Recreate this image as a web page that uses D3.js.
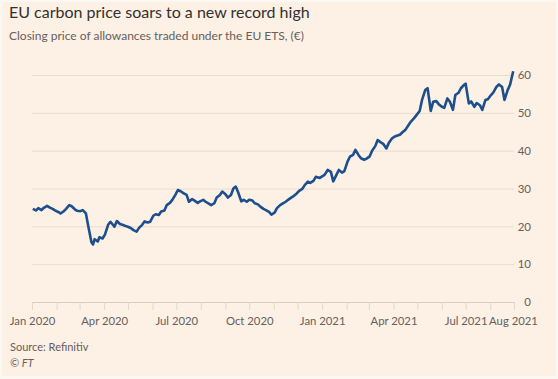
<!DOCTYPE html>
<html><head><meta charset="utf-8">
<script src="https://cdn.jsdelivr.net/npm/d3@7"></script>
<style>
html,body{margin:0;padding:0;background:#fbf7f3;}
svg{display:block;}
</style></head><body>
<svg id="chart" width="558" height="379"></svg>
<script>
const title = "EU carbon price soars to a new record high";
const subtitle = "Closing price of allowances traded under the EU ETS, (€)";
const sourceText = "Source: Refinitiv";
const creditText = "© FT";

const dates = ["2020-01-02","2020-01-06","2020-01-09","2020-01-13","2020-01-16","2020-01-20","2020-01-23","2020-01-27","2020-01-30","2020-02-03","2020-02-06","2020-02-10","2020-02-13","2020-02-17","2020-02-20","2020-02-24","2020-02-27","2020-03-02","2020-03-05","2020-03-09","2020-03-12","2020-03-16","2020-03-18","2020-03-20","2020-03-24","2020-03-26","2020-03-30","2020-04-02","2020-04-06","2020-04-09","2020-04-14","2020-04-17","2020-04-21","2020-04-24","2020-04-28","2020-05-01","2020-05-05","2020-05-08","2020-05-12","2020-05-15","2020-05-19","2020-05-22","2020-05-26","2020-05-29","2020-06-02","2020-06-05","2020-06-09","2020-06-12","2020-06-16","2020-06-19","2020-06-23","2020-06-26","2020-06-30","2020-07-03","2020-07-07","2020-07-10","2020-07-14","2020-07-17","2020-07-21","2020-07-24","2020-07-28","2020-07-31","2020-08-04","2020-08-07","2020-08-11","2020-08-14","2020-08-18","2020-08-21","2020-08-25","2020-08-28","2020-09-01","2020-09-04","2020-09-08","2020-09-11","2020-09-14","2020-09-17","2020-09-21","2020-09-24","2020-09-28","2020-10-01","2020-10-05","2020-10-08","2020-10-12","2020-10-15","2020-10-19","2020-10-22","2020-10-26","2020-10-29","2020-11-02","2020-11-05","2020-11-09","2020-11-12","2020-11-16","2020-11-19","2020-11-23","2020-11-26","2020-11-30","2020-12-03","2020-12-07","2020-12-10","2020-12-14","2020-12-17","2020-12-21","2020-12-24","2020-12-29","2021-01-04","2021-01-08","2021-01-12","2021-01-15","2021-01-19","2021-01-22","2021-01-26","2021-01-29","2021-02-02","2021-02-05","2021-02-09","2021-02-12","2021-02-16","2021-02-19","2021-02-23","2021-02-26","2021-03-02","2021-03-05","2021-03-09","2021-03-12","2021-03-16","2021-03-19","2021-03-23","2021-03-26","2021-03-30","2021-04-02","2021-04-06","2021-04-09","2021-04-13","2021-04-16","2021-04-20","2021-04-23","2021-04-27","2021-04-30","2021-05-04","2021-05-07","2021-05-11","2021-05-14","2021-05-18","2021-05-21","2021-05-25","2021-05-28","2021-06-01","2021-06-04","2021-06-08","2021-06-11","2021-06-15","2021-06-18","2021-06-22","2021-06-25","2021-06-29","2021-07-01","2021-07-05","2021-07-08","2021-07-12","2021-07-15","2021-07-19","2021-07-22","2021-07-26","2021-07-29","2021-08-02","2021-08-05","2021-08-09","2021-08-12","2021-08-16","2021-08-19","2021-08-23","2021-08-26","2021-08-30"];

const prices = [24.6,24.2,24.8,24.3,24.9,25.4,25.0,24.6,24.2,23.8,23.4,24.0,24.6,25.6,25.3,24.5,24.1,24.0,24.3,23.4,20.0,15.8,15.2,16.6,16.0,17.1,16.8,17.8,20.4,21.2,19.9,21.4,20.6,20.4,20.1,19.9,19.5,19.0,18.6,19.6,20.4,21.3,21.0,21.2,22.8,23.2,23.0,23.9,24.2,25.6,26.2,27.0,28.4,29.6,29.2,28.8,28.3,26.5,27.2,26.8,26.2,26.6,27.0,26.5,26.0,25.6,26.1,27.6,28.3,29.2,28.5,27.6,28.3,30.0,30.5,29.0,26.6,27.0,26.5,27.0,26.8,26.1,25.8,25.2,24.6,24.3,23.8,23.1,23.6,24.8,25.6,26.0,26.5,27.0,27.6,28.0,28.7,29.4,29.9,30.9,31.8,31.5,32.0,33.1,32.8,33.6,34.9,34.4,31.9,33.6,34.9,34.2,34.6,37.1,38.4,38.9,40.2,38.8,38.0,37.6,37.9,38.5,40.0,41.2,42.8,42.2,41.8,40.6,42.0,43.2,43.7,44.0,44.2,45.0,45.5,46.8,47.7,48.6,49.4,50.5,53.4,56.0,56.5,50.5,52.9,53.1,52.3,51.6,51.3,53.8,53.0,50.8,54.7,55.3,56.5,57.4,57.7,52.5,53.0,51.6,52.6,52.0,50.8,53.4,53.6,54.7,55.4,56.9,57.5,56.8,53.4,56.0,57.4,61.0];

const xDomain = ["2020-01-01","2021-08-31"];
const xTickDates = ["2020-01-01","2020-04-01","2020-07-01","2020-10-01","2021-01-01","2021-04-01","2021-07-01","2021-08-31"];
const xTickLabels = ["Jan 2020","Apr 2020","Jul 2020","Oct 2020","Jan 2021","Apr 2021","Jul 2021","Aug 2021"];
const yTicks = [0,10,20,30,40,50,60];

const parse = d3.utcParse("%Y-%m-%d");
const data = dates.map((d,i)=>({date:parse(d), value:prices[i]}));

const svg = d3.select("#chart");
const W = 558, H = 379;
svg.append("rect").attr("x",2).attr("y",2).attr("width",W-4).attr("height",H-5).attr("fill","#fdf0e5");

const mLeft = 32, mRight = 514, mTop = 75, mBottom = 302;
const x = d3.scaleUtc().domain(xDomain.map(parse)).range([mLeft,mRight]);
const y = d3.scaleLinear().domain([0,60]).range([mBottom,mTop]);

const font = "Lato, 'Open Sans', sans-serif";

svg.append("text").attr("x",9).attr("y",18).text(title)
  .attr("font-family",font).attr("font-size",16).attr("fill","#33302e");
svg.append("text").attr("x",9).attr("y",40).text(subtitle)
  .attr("font-family",font).attr("font-size",12).attr("fill","#66605c");

// gridlines + y labels
const yAxis = d3.axisRight(y).tickValues(yTicks).tickSize(mRight-mLeft).tickFormat(d3.format("d"));
const gy = svg.append("g").attr("transform",`translate(${mLeft},0)`).call(yAxis);
gy.select(".domain").remove();
gy.selectAll(".tick line").attr("stroke","#e9ddd2").attr("stroke-width",1);
gy.selectAll(".tick text").attr("x", mRight-mLeft+17).attr("text-anchor","end")
  .attr("font-family",font).attr("font-size",11.5).attr("fill","#66605c");

// x axis with monthly ticks
const monthTicks = d3.utcMonth.range(parse(xDomain[0]), parse("2021-08-02")).concat([parse(xDomain[1])]);
const xMinor = d3.axisBottom(x).tickValues(monthTicks).tickSize(8).tickFormat("");
const gxm = svg.append("g").attr("transform",`translate(0,${mBottom})`).call(xMinor);
gxm.select(".domain").attr("stroke","#d9cdc3");
gxm.selectAll(".tick line").attr("stroke","#e3d7cc");

const xLab = d3.axisBottom(x).tickValues(xTickDates.map(parse)).tickSize(0)
  .tickFormat((d,i)=>xTickLabels[i]);
const gx = svg.append("g").attr("transform",`translate(0,${mBottom})`).call(xLab);
gx.select(".domain").remove();
gx.selectAll(".tick text").attr("y",23).attr("dy",0)
  .attr("font-family",font).attr("font-size",11.3).attr("fill","#66605c");
gx.selectAll(".tick text").filter((d,i)=>i===xTickLabels.length-1).attr("dx",-1);

// line
const line = d3.line().x(d=>x(d.date)).y(d=>y(d.value)).curve(d3.curveLinear);
svg.append("path").datum(data).attr("d",line).attr("fill","none")
  .attr("stroke","#1d4f8c").attr("stroke-width",2.6).attr("stroke-linejoin","round");

svg.append("text").attr("x",10).attr("y",351).text(sourceText)
  .attr("font-family",font).attr("font-size",11).attr("fill","#66605c");
svg.append("text").attr("x",10).attr("y",367).text(creditText)
  .attr("font-family",font).attr("font-size",11).attr("font-style","italic").attr("fill","#66605c");
</script>
</body></html>
